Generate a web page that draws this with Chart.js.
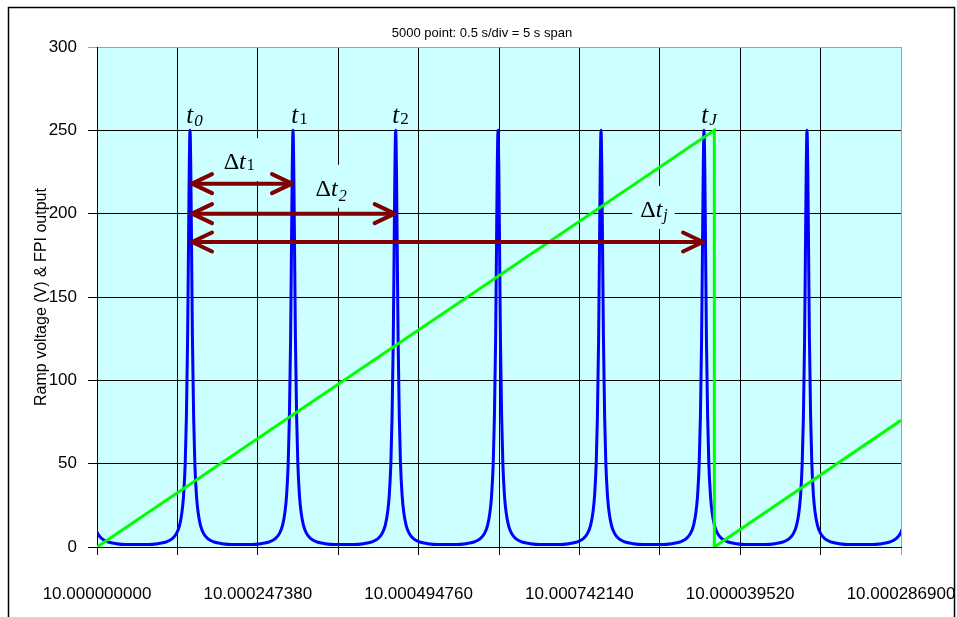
<!DOCTYPE html>
<html lang="en">
<head>
<meta charset="UTF-8">
<title>Ramp voltage &amp; FPI output</title>
<style>
  html, body { margin: 0; padding: 0; background: #fff; }
  canvas { display: block; }
</style>
</head>
<body>
<canvas id="scanChart" width="957" height="617"></canvas>
<script src="https://cdn.jsdelivr.net/npm/chart.js@4"></script>
<script>
// x is measured in divisions (0.5 s/div, 10 divisions across)
const xTickLabels = ['10.000000000', '10.000247380', '10.000494760', '10.000742140', '10.000039520', '10.000286900'];

// FPI transmission peaks (divisions); first and last sit just outside the sweep
const peakTimes = [-0.16, 1.157, 2.438, 3.715, 4.988, 6.269, 7.550, 8.831, 10.16];
// one peak: distance from its centre (div) and the output level there
const peakOffsets = [0, 0.01, 0.02, 0.03, 0.045, 0.06, 0.08, 0.1, 0.13, 0.17, 0.22, 0.3, 0.4, 0.52];
const peakLevels = [250, 225, 175, 125, 78, 50, 31, 21, 13, 8, 5, 3, 2, 1.5];

// ramp voltage: rise, flyback, next rise
const rampTimes = [0, 7.678, 7.678, 10];
const rampVolts = [0, 250, 0, 76];

// interval arrows: from peak index to peak index, at height (V)
const arrowFrom = [1, 1, 1];
const arrowTo = [2, 3, 6];
const arrowLevels = [218, 200, 183];

// build the FPI trace by laying the peak shape on each peak centre
const fpiPoints = [];
peakTimes.forEach(t => {
    for (let i = peakOffsets.length - 1; i > 0; i--) {
        fpiPoints.push({ x: t - peakOffsets[i], y: peakLevels[i] });
    }
    fpiPoints.push({ x: t, y: peakLevels[0] });
    for (let i = 1; i < peakOffsets.length; i++) {
        fpiPoints.push({ x: t + peakOffsets[i], y: peakLevels[i] });
    }
});

const rampPoints = rampTimes.map((t, i) => ({ x: t, y: rampVolts[i] }));

// t labels over the peaks and the delta-t labels over the arrows
const marks = [
    { delta: false, sub: '0', subItalic: true,  x: 1.110, y: 254.5, size: 25, subDy: 3 },
    { delta: false, sub: '1', subItalic: false, x: 2.416, y: 254.5, size: 25, subDy: 1 },
    { delta: false, sub: '2', subItalic: false, x: 3.672, y: 254.5, size: 25, subDy: 1 },
    { delta: false, sub: 'J', subItalic: true,  x: 7.515, y: 254.5, size: 25, subDy: 2 },
    { delta: true,  sub: '1', subItalic: false, x: 1.575, y: 226.8, size: 24, subDy: 1 },
    { delta: true,  sub: '2', subItalic: true,  x: 2.719, y: 210.8, size: 24, subDy: 5 },
    { delta: true,  sub: 'j', subItalic: true,  x: 6.757, y: 198.0, size: 24, subDy: 3 }
];

const SERIF = '"Liberation Serif", "Times New Roman", serif';
const SANS = '"Liberation Sans", Arial, sans-serif';
const PLOT_BG = '#CCFFFF';
const ARROW = '#800000';

Chart.defaults.font.family = SANS;
Chart.defaults.color = '#000';

function drawMark(ctx, m, px, py) {
    const subSize = Math.round(m.size * 0.68);
    const upright = m.size + 'px ' + SERIF;
    const italic = 'italic ' + m.size + 'px ' + SERIF;
    const subFont = (m.subItalic ? 'italic ' : '') + subSize + 'px ' + SERIF;

    ctx.font = upright;
    const dW = m.delta ? ctx.measureText('\u0394').width : 0;
    ctx.font = italic;
    const tW = ctx.measureText('t').width;
    ctx.font = subFont;
    const sW = ctx.measureText(m.sub).width;

    if (m.delta) {
        // label box hides the grid behind the text
        ctx.fillStyle = PLOT_BG;
        ctx.fillRect(px - 8, py - 31, dW + tW + sW + 16, 43);
    }
    ctx.fillStyle = '#000';
    ctx.textAlign = 'left';
    ctx.textBaseline = 'alphabetic';
    let x = px;
    if (m.delta) {
        ctx.font = upright;
        ctx.fillText('\u0394', x, py);
        x += dW;
    }
    ctx.font = italic;
    ctx.fillText('t', x, py);
    x += tW + 1;
    ctx.font = subFont;
    ctx.fillText(m.sub, x, py + m.subDy);
}

function drawArrowHead(ctx, x, y, dir) {
    ctx.beginPath();
    ctx.moveTo(x - dir * 20, y - 9.5);
    ctx.lineTo(x, y);
    ctx.lineTo(x - dir * 20, y + 9.5);
    ctx.stroke();
}

const decorations = {
    id: 'decorations',
    beforeDraw(chart) {
        const { ctx, chartArea: a } = chart;
        ctx.save();
        ctx.fillStyle = '#fff';
        ctx.fillRect(0, 0, chart.width, chart.height);
        ctx.fillStyle = PLOT_BG;
        ctx.fillRect(a.left, a.top, a.right - a.left, a.bottom - a.top);
        ctx.restore();
    },
    beforeDatasetsDraw(chart) {
        const { ctx, scales: { x, y } } = chart;
        ctx.save();
        marks.filter(m => m.delta).forEach(m => drawMark(ctx, m, x.getPixelForValue(m.x), y.getPixelForValue(m.y)));
        ctx.restore();
    },
    afterDatasetsDraw(chart) {
        const { ctx, scales: { x, y } } = chart;
        ctx.save();
        ctx.strokeStyle = ARROW;
        ctx.lineWidth = 4;
        ctx.lineCap = 'round';
        ctx.lineJoin = 'round';
        arrowLevels.forEach((v, i) => {
            const x0 = x.getPixelForValue(peakTimes[arrowFrom[i]]) + 2;
            const x1 = x.getPixelForValue(peakTimes[arrowTo[i]]) - 1;
            const py = y.getPixelForValue(v);
            ctx.beginPath();
            ctx.moveTo(x0, py);
            ctx.lineTo(x1, py);
            ctx.stroke();
            drawArrowHead(ctx, x0, py, -1);
            drawArrowHead(ctx, x1, py, 1);
        });
        marks.filter(m => !m.delta).forEach(m => drawMark(ctx, m, x.getPixelForValue(m.x), y.getPixelForValue(m.y)));
        ctx.restore();
    },
    afterDraw(chart) {
        const { ctx } = chart;
        ctx.save();
        ctx.font = '13px ' + SANS;
        ctx.fillStyle = '#000';
        ctx.textAlign = 'center';
        ctx.textBaseline = 'middle';
        ctx.fillText('5000 point: 0.5 s/div = 5 s span', 482, 33);
        ctx.strokeStyle = '#000';
        ctx.lineWidth = 1.5;
        ctx.strokeRect(8.5, 7.5, 946, 700);
        ctx.restore();
    }
};

new Chart(document.getElementById('scanChart'), {
    type: 'line',
    data: {
        datasets: [
            {
                label: 'Ramp voltage',
                data: rampPoints,
                borderColor: '#00FF00',
                borderWidth: 3,
                pointRadius: 0,
                tension: 0
            },
            {
                label: 'FPI output',
                data: fpiPoints,
                borderColor: '#0000FF',
                borderWidth: 3,
                pointRadius: 0,
                cubicInterpolationMode: 'monotone'
            }
        ]
    },
    options: {
        responsive: false,
        animation: false,
        devicePixelRatio: 1,
        layout: { padding: { left: 20, right: 56, top: 47, bottom: 0 } },
        plugins: {
            legend: { display: false },
            tooltip: { enabled: false }
        },
        scales: {
            x: {
                type: 'linear',
                min: 0,
                max: 10,
                afterFit: scale => {
                    // the end labels may run into the margin
                    scale.height = 70;
                    scale.paddingLeft = 0;
                    scale.paddingRight = 0;
                },
                border: { display: true, color: '#000', width: 1 },
                grid: {
                    color: c => c.tick && c.tick.value === 10 ? '#A0A0A0' : '#000',
                    lineWidth: 1,
                    tickLength: 8
                },
                ticks: {
                    stepSize: 1,
                    autoSkip: false,
                    maxRotation: 0,
                    minRotation: 0,
                    padding: 29,
                    font: { size: 17 },
                    callback: v => (v % 2 === 0 ? xTickLabels[v / 2] : '')
                }
            },
            y: {
                min: 0,
                max: 300,
                afterFit: scale => { scale.width = 77; },
                border: { display: true, color: '#000', width: 1 },
                grid: {
                    color: c => c.tick && c.tick.value === 300 ? '#A0A0A0' : '#000',
                    lineWidth: 1,
                    tickLength: 9
                },
                ticks: {
                    stepSize: 50,
                    padding: 11,
                    font: { size: 17 }
                },
                title: {
                    display: true,
                    text: 'Ramp voltage (V) & FPI output',
                    font: { size: 16 },
                    padding: { top: 12, bottom: 0 }
                }
            }
        }
    },
    plugins: [decorations]
});
</script>
</body>
</html>
